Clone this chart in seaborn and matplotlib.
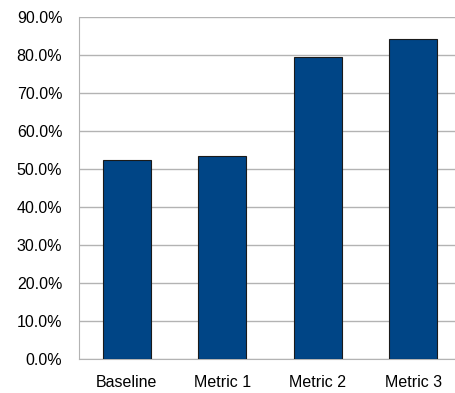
import numpy as np
import pandas as pd
import seaborn as sns
from matplotlib import pyplot as plt
from matplotlib.ticker import PercentFormatter, FixedLocator

categories = ['Baseline', 'Metric 1', 'Metric 2', 'Metric 3']
values = [52.2, 53.4, 79.5, 84.0]
yticks = [0, 10, 20, 30, 40, 50, 60, 70, 80, 90]

data = pd.DataFrame({'metric': categories, 'value': values})

sns.set_style('white')
plt.rcParams['font.family'] = ['Liberation Sans', 'DejaVu Sans']

fig = plt.figure(figsize=(4.55, 3.93), dpi=100)
# plot area runs slightly past the right edge, as in the original
ax = fig.add_axes([79 / 455, 34.3 / 393, 382 / 455, 342 / 393])

sns.barplot(data=data, x='metric', y='value', color='#004586', saturation=1,
            width=0.5, edgecolor='#1a1a1a', linewidth=0.8, ax=ax, zorder=3)

ax.set_xlim(-0.5, 3.5)
ax.set_ylim(0, 90)
ax.set_yticks(yticks)
ax.yaxis.set_major_formatter(PercentFormatter(decimals=1))
ax.grid(axis='y', color='#b3b3b3', linewidth=1.0, zorder=0)
ax.set_axisbelow(True)

for s in ['top', 'right']:
    ax.spines[s].set_visible(False)
ax.spines['left'].set_color('#b3b3b3')
ax.spines['bottom'].set_color('#b3b3b3')
ax.spines['left'].set_bounds(0, 90)

ax.xaxis.set_minor_locator(FixedLocator([-0.5, 0.5, 1.5, 2.5, 3.5]))
ax.tick_params(axis='x', which='major', length=0, pad=12, labelsize=11.5, colors='black')
ax.tick_params(axis='x', which='minor', length=6, width=1, color='#b3b3b3', direction='out')
ax.tick_params(axis='y', length=6, width=1, color='#b3b3b3', pad=6, labelsize=11.5, labelcolor='black')

ax.set_xlabel('')
ax.set_ylabel('')

fig.savefig('out.png', dpi=100)
